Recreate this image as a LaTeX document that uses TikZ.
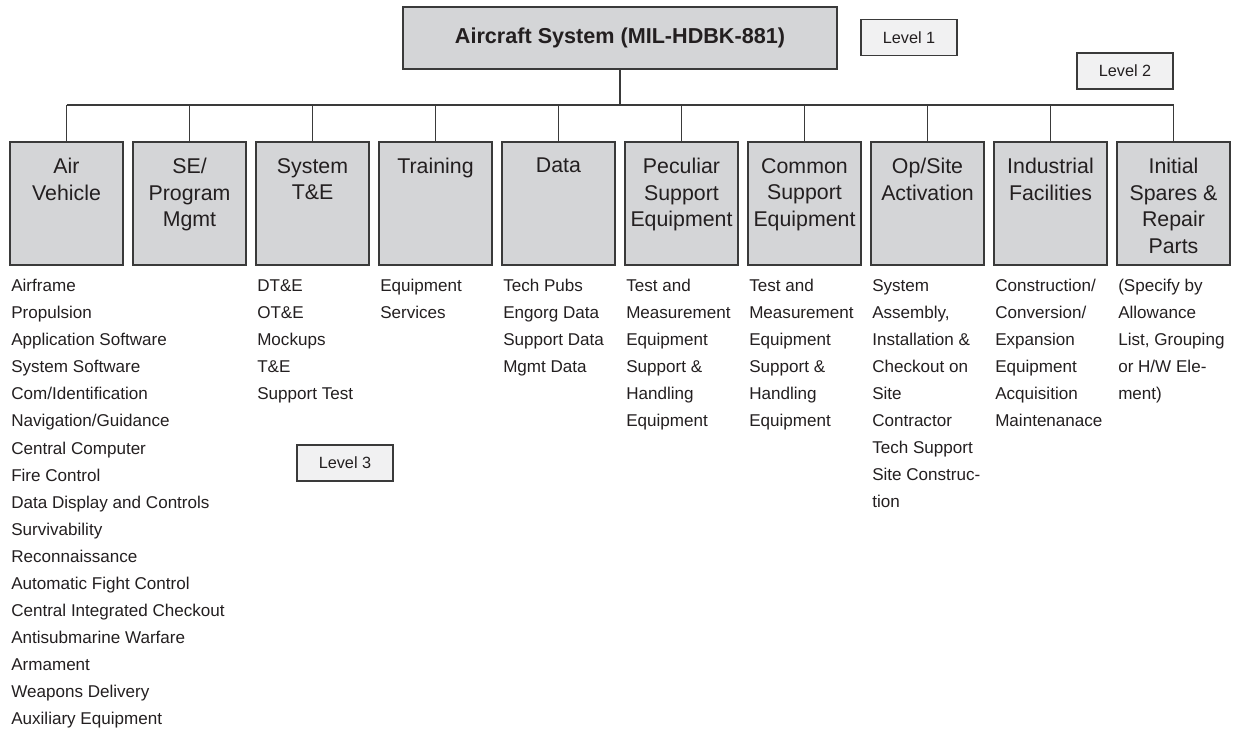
\documentclass[tikz,border=0pt]{standalone}
\usepackage{fontspec}
\setmainfont{Liberation Sans}
\begin{document}
\begin{tikzpicture}[x=0.75pt,y=-0.75pt,
  every node/.style={text=inkc},
  topbox/.style={draw=edgec,line width=1pt,fill=boxc,minimum width=325.5pt,minimum height=46.5pt,inner sep=0pt,
    font=\bfseries\fontsize{16.2}{19}\selectfont},
  catbox/.style={draw=edgec,line width=1pt,fill=boxc,minimum width=84.75pt,minimum height=92.25pt,inner sep=0pt},
  cattext/.style={anchor=north,inner sep=0pt,align=center,font=\fontsize{16}{19.9}\selectfont},
  itemlist/.style={anchor=north west,inner sep=0pt,align=left,font=\fontsize{12.8}{20.3}\selectfont},
  levelbox/.style={draw=edgec,line width=0.8pt,fill=tagc,minimum width=72pt,minimum height=27pt,inner sep=0pt,
    font=\fontsize{12.2}{14}\selectfont},
  wire/.style={draw=edgec,line width=0.8pt}
]
\definecolor{inkc}{HTML}{231F20}
\definecolor{edgec}{HTML}{3A3A3A}
\definecolor{boxc}{HTML}{D4D5D7}
\definecolor{tagc}{HTML}{F1F1F2}

\useasboundingbox (0,0) rectangle (1233,731);

% Level 1
\node[topbox] (top) at (620,38) {Aircraft System (MIL-HDBK-881)};

% Level 2 categories
\node[catbox] (av)  at (66.5,203.5) {};
\node[catbox] (se)  at (189.5,203.5) {};
\node[catbox] (te)  at (312.5,203.5) {};
\node[catbox] (tr)  at (435.5,203.5) {};
\node[catbox] (da)  at (558.5,203.5) {};
\node[catbox] (pse) at (681.5,203.5) {};
\node[catbox] (cse) at (804.5,203.5) {};
\node[catbox] (osa) at (927.5,203.5) {};
\node[catbox] (inf) at (1050.5,203.5) {};
\node[catbox] (isp) at (1173.5,203.5) {};

\node[cattext] (avt)  at (66.5,158)  {Air\\Vehicle};
\node[cattext] (set)  at (189.5,158) {SE/\\Program\\Mgmt};
\node[cattext] (tet)  at (312.5,158) {System\\T\&E};
\node[cattext] (trt)  at (435.5,158) {Training};
\node[cattext] (dat)  at (558.5,158) {Data};
\node[cattext] (pset) at (681.5,158) {Peculiar\\Support\\Equipment};
\node[cattext] (cset) at (804.5,158) {Common\\Support\\Equipment};
\node[cattext] (osat) at (927.5,158) {Op/Site\\Activation};
\node[cattext] (inft) at (1050.5,158) {Industrial\\Facilities};
\node[cattext] (ispt) at (1173.5,158) {Initial\\Spares \&\\Repair\\Parts};

% Tree connectors
\coordinate (bus) at (620,105);
\draw[wire] (top.south) -- (bus);
\draw[wire] (av.north |- bus) -- (isp.north |- bus);
\foreach \n in {av,se,te,tr,da,pse,cse,osa,inf,isp}
  \draw[wire] (\n.north) -- (\n.north |- bus);

% Level 3 elements
\node[itemlist] (avl) at (11,279) {Airframe\\Propulsion\\Application Software\\System Software\\Com/Identification\\Navigation/Guidance\\Central Computer\\Fire Control\\Data Display and Controls\\Survivability\\Reconnaissance\\Automatic Fight Control\\Central Integrated Checkout\\Antisubmarine Warfare\\Armament\\Weapons Delivery\\Auxiliary Equipment};
\node[itemlist] (tel) at (257,279) {DT\&E\\OT\&E\\Mockups\\T\&E\\Support Test};
\node[itemlist] (trl) at (380,279) {Equipment\\Services};
\node[itemlist] (dal) at (503,279) {Tech Pubs\\Engorg Data\\Support Data\\Mgmt Data};
\node[itemlist] (psel) at (626,279) {Test and\\Measurement\\Equipment\\Support \&\\Handling\\Equipment};
\node[itemlist] (csel) at (749,279) {Test and\\Measurement\\Equipment\\Support \&\\Handling\\Equipment};
\node[itemlist] (osal) at (872,279) {System\\Assembly,\\Installation \&\\Checkout on\\Site\\Contractor\\Tech Support\\Site Construc-\\tion};
\node[itemlist] (infl) at (995,279) {Construction/\\Conversion/\\Expansion\\Equipment\\Acquisition\\Maintenanace};
\node[itemlist] (ispl) at (1118,279) {(Specify by\\Allowance\\List, Grouping\\or H/W Ele-\\ment)};

% Level tags
\node[levelbox] (lv1) at (909,37.5) {Level 1};
\node[levelbox] (lv2) at (1125,71) {Level 2};
\node[levelbox] (lv3) at (345,463) {Level 3};
\end{tikzpicture}
\end{document}
